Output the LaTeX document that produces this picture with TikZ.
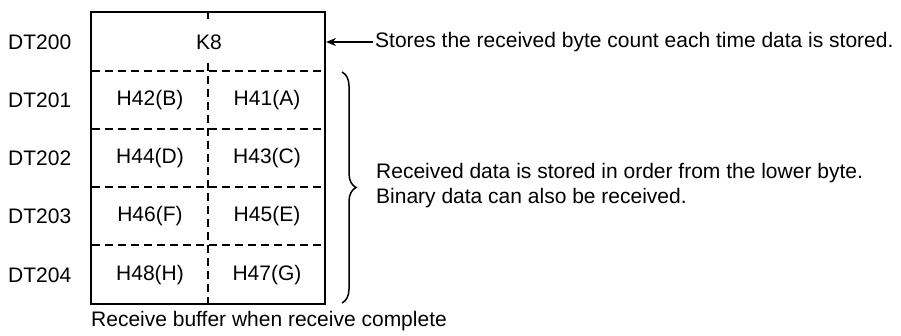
\documentclass[tikz,border=0pt]{standalone}
\usepackage{fontspec}
\setmainfont{Liberation Sans}
\usetikzlibrary{arrows.meta,decorations.pathreplacing}
\begin{document}
\begin{tikzpicture}[x=1pt,y=-1pt,
  txt/.style={inner sep=0pt, font=\fontsize{21}{25}\selectfont},
  lbl/.style={txt, anchor=west},
  cell/.style={txt, inner sep=1pt},
  dsh/.style={line width=1.8pt, dash pattern=on 8pt off 5pt},
  frame/.style={draw, line width=2pt, minimum width=234pt, minimum height=292pt, inner sep=0pt},
]
\useasboundingbox (0,0) rectangle (901,336);
% buffer frame
\node[frame] (buf) at (208,158) {};
% dashed dividers
\draw[dsh] (buf.north) -- (buf.south);
\foreach \y in {71,129,187,245}{
  \draw[dsh] (92,\y) -- (324,\y);
}
% cell contents
\node[cell, fill=white, inner xsep=4pt, inner ysep=11pt] (k8) at (209,42) {K8};
\node[cell] (c1l) at (150,100) {H42(B)};
\node[cell] (c1r) at (267,100) {H41(A)};
\node[cell] (c2l) at (150,158) {H44(D)};
\node[cell] (c2r) at (267,158) {H43(C)};
\node[cell] (c3l) at (150,216) {H46(F)};
\node[cell] (c3r) at (267,216) {H45(E)};
\node[cell] (c4l) at (150,275) {H48(H)};
\node[cell] (c4r) at (267,275) {H47(G)};
% register labels
\node[lbl] (dt0) at (8,42) {DT200};
\node[lbl] (dt1) at (8,100) {DT201};
\node[lbl] (dt2) at (8,158) {DT202};
\node[lbl] (dt3) at (8,216) {DT203};
\node[lbl] (dt4) at (8,275) {DT204};
% annotation with arrow
\node[lbl] (stores) at (375,42) {Stores the received byte count each time data is stored.};
\draw[line width=1.8pt, -{Stealth[length=10pt,width=8pt]}] ([xshift=-2pt]stores.west) -- (stores.west -| buf.east);
% brace
\coordinate (bt) at (342,72);
\coordinate (bb) at (342,303);
\draw[line width=1.5pt, decorate, decoration={brace, amplitude=14pt}] (bt) -- (bb);
\node[txt, anchor=west, align=left] (recv) at (376,186) {Received data is stored in order from the lower byte.\\Binary data can also be received.};
% caption
\node[lbl] (cap) at (91,321) {Receive buffer when receive complete};
\end{tikzpicture}
\end{document}
